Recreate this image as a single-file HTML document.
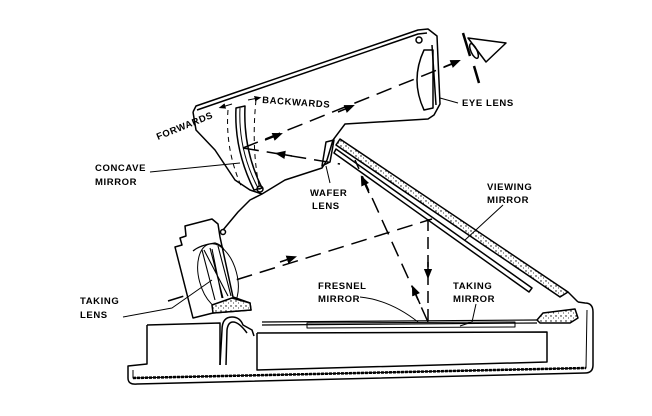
<!DOCTYPE html>
<html><head><meta charset="utf-8"><style>
html,body{margin:0;padding:0;background:#fff}
svg{display:block}
text{font-family:"Liberation Sans",sans-serif;font-weight:bold;font-size:9.5px;letter-spacing:0.6px;fill:#000}
</style></head><body>
<svg width="652" height="416" viewBox="0 0 652 416" xmlns="http://www.w3.org/2000/svg">
<defs>
<marker id="ar" viewBox="0 0 10 10" refX="5" refY="5" markerWidth="7" markerHeight="7" orient="auto"><path d="M0,1 L10,5 L0,9 Z" fill="#000"/></marker>
<pattern id="dots" width="5" height="5" patternUnits="userSpaceOnUse"><rect width="5" height="5" fill="#fff"/><circle cx="1" cy="1" r="0.7" fill="#000"/><circle cx="3.5" cy="3" r="0.5" fill="#000"/></pattern>
</defs>
<g fill="none" stroke="#000" stroke-width="1.5" stroke-linejoin="round">
<path d="M193 112 L196 106 L418 30 L428 29 L437 36 L440 104 L434 115 L428 119 L345 124 L333 140 L327 160 L322 168 L285 180 L262 194 L250 200 L238 212 L223 230"/>
<circle cx="223" cy="232" r="2.5"/>
<path d="M197 110 L418 34 L427 33"/>
<path d="M193 112 L196 130 L215 150 L235 180 L250 190 L262 194"/>
<circle cx="419" cy="40" r="3"/>
<path d="M424 50 Q410 80 424 110 L433 108 L433 50 Z"/>
<path d="M432 45 L436 105"/>
<path d="M236 108 Q234 150 254 190 L262 188 Q243 150 245 106 Z"/>
<path d="M240 108 Q238 150 258 188" stroke-width="1"/>
<path d="M228 110 Q225 150 242 188" stroke-dasharray="5,4" stroke-width="1"/>
<path d="M256 100 Q251 150 260 190" stroke-dasharray="5,4" stroke-width="1"/>
<circle cx="260" cy="189" r="3"/>
<path d="M232 104 L222 107" marker-end="url(#ar)" stroke-width="1"/>
<path d="M248 100 L258 98" marker-end="url(#ar)" stroke-width="1"/>
<path d="M326 142 L334 140 L330 162 L322 166 Z"/>
<path d="M340 139 L568 292 L560 297 L336 145 Z" fill="url(#dots)"/>
<path d="M568 292 L578 302"/>
<path d="M336 149 L532 288 L529 292 L334 153 Z" fill="#fff"/>
<path d="M468 38 L506 43 L486 62 Z"/>
<ellipse cx="474" cy="51" rx="3" ry="8" transform="rotate(-25 474 51)"/>
<path d="M463 33 L470 56 M474 66 L479 83" stroke-width="2.5"/>
<path d="M243 148 L462 60" stroke-dasharray="16,8"/>
<path d="M243 148 L340 164" stroke-dasharray="16,8"/>
<path d="M428 322 L355 160" stroke-dasharray="16,8"/>
<path d="M168 301 L432 219" stroke-dasharray="16,8"/>
<path d="M428 219 L428 322" stroke-dasharray="12,6"/>
<path d="M265 140 L278 135" marker-end="url(#ar)"/>
<path d="M338 112 L350 107" marker-end="url(#ar)"/>
<path d="M444 67 L456 62" marker-end="url(#ar)"/>
<path d="M292 156 L280 154" marker-end="url(#ar)"/>
<path d="M420 304 L414 290" marker-end="url(#ar)"/>
<path d="M369 193 L363 180" marker-end="url(#ar)"/>
<path d="M280 262 L292 258" marker-end="url(#ar)"/>
<path d="M428 262 L428 274" marker-end="url(#ar)"/>
<path d="M175 247 L182 245 L180 238 L186 236 L185 226 L212 219 L218 224 L220 237 L233 297 L250 303 L251 310 L213 313 L193 318 Z" fill="#fff"/>
<path d="M193 251 Q200 245 215 243 Q222 245 224 250" stroke-width="1.2"/>
<ellipse cx="218" cy="277" rx="19" ry="34" transform="rotate(-15 218 277)" stroke-width="1"/>
<path d="M202 250 L215 300 M210 248 L223 298 M218 246 L231 296 M204 250 L228 296 M212 249 L222 298" stroke-width="1.1"/>
<path d="M212 305 L232 298 L250 303 L251 310 L213 313 Z" fill="url(#dots)"/>
<path d="M147 325 L220 323 L220 365 M147 325 L147 364 L128 366 L128 378 Q128 385 137 384 L585 373 Q593 373 593 365 L593 312 Q593 303 585 303 L578 302"/>
<path d="M133 370 L133 378 L586 368 L587 310" stroke-width="1"/>
<path d="M133 378 L586 368" stroke-width="2.5" stroke-dasharray="3,1"/>
<path d="M220 365 L222 330 Q222 317 232 317 Q240 317 243 325 L252 330 L254 336"/>
<path d="M226 365 L227 330 Q228 322 233 322 Q239 322 247 333"/>
<path d="M257 333 L257 370 L547 362 L547 332 L257 333"/>
<path d="M262 322 L537 320 M262 325 L537 323" stroke-width="1.2"/>
<path d="M307 323 L515 322 L515 327 L307 328 Z" stroke-width="1"/>
<path d="M537 320 L543 313 L575 309 L578 318 L570 323 L540 323 Z" fill="url(#dots)"/>
<path d="M150 172 L240 163" stroke-width="1"/>
<path d="M330 183 L326 166" stroke-width="1"/>
<path d="M503 205 L465 240" stroke-width="1"/>
<path d="M360 297 Q390 300 418 322" stroke-width="1"/>
<path d="M476 304 L472 322 L460 326" stroke-width="1"/>
<path d="M123 317 L172 308 L212 280" stroke-width="1"/>
<path d="M458 103 L440 98" stroke-width="1"/>
</g>
<text x="462" y="106">EYE LENS</text>
<text x="262" y="103" transform="rotate(4 262 103)">BACKWARDS</text>
<text x="158" y="140" transform="rotate(-22 158 140)">FORWARDS</text>
<text x="95" y="171">CONCAVE</text>
<text x="95" y="185">MIRROR</text>
<text x="310" y="196">WAFER</text>
<text x="312" y="209">LENS</text>
<text x="487" y="190">VIEWING</text>
<text x="487" y="203">MIRROR</text>
<text x="318" y="289">FRESNEL</text>
<text x="318" y="302">MIRROR</text>
<text x="453" y="289">TAKING</text>
<text x="453" y="302">MIRROR</text>
<text x="80" y="304">TAKING</text>
<text x="80" y="318">LENS</text>
</svg>
</body></html>
